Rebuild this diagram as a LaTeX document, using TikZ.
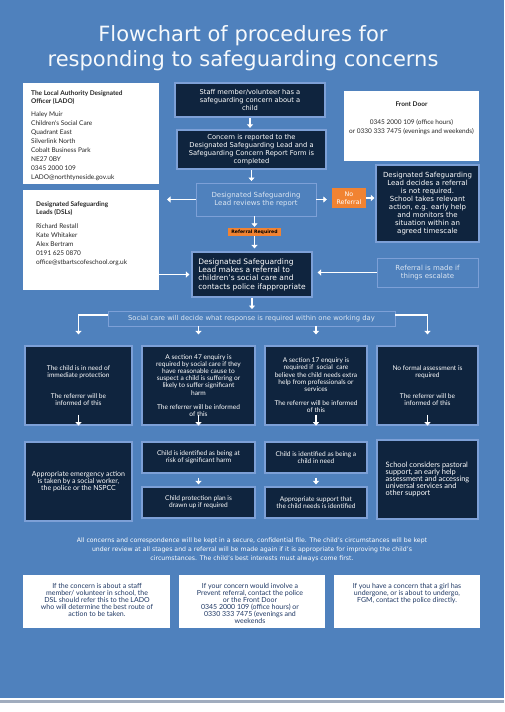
\documentclass[tikz,border=0pt]{standalone}
\usepackage{fontspec}
\setmainfont{DejaVu Sans}
\newfontfamily\gillfont{Lato}
\usetikzlibrary{positioning,arrows.meta,calc}

\definecolor{pageblue}{RGB}{79,129,189}
\definecolor{navyfill}{RGB}{15,36,62}
\definecolor{edgeblue}{RGB}{125,160,215}
\definecolor{paletext}{RGB}{220,230,242}
\definecolor{tagorange}{RGB}{241,131,50}
\definecolor{inkblue}{RGB}{31,56,100}
\definecolor{footgray}{RGB}{160,172,190}

\begin{document}
\begin{tikzpicture}[
  x=1pt, y=-1pt,
  >={Triangle[length=3.5pt,width=6pt]},
  navybox/.style={draw=edgeblue, fill=navyfill, line width=1.2pt, text=white, align=center, inner sep=1pt},
  palebox/.style={draw=edgeblue, line width=0.9pt, text=paletext, align=center, inner sep=1pt},
  card/.style={fill=white, inner sep=0pt},
  tag/.style={fill=tagorange, align=center, inner sep=0pt},
  flow/.style={->, draw=white, line width=1.6pt},
  big/.style={font=\fontsize{6.7}{8.1}\selectfont},
  rowtext/.style={font=\gillfont\fontsize{6.6}{7.2}\selectfont},
  contact/.style={font=\gillfont\fontsize{6.5}{9}\selectfont, text=black!85, inner sep=0pt},
  foot/.style={font=\gillfont\fontsize{7}{7.1}\selectfont, text=inkblue, align=center, inner sep=0pt}
]

% ---------- page ----------
\fill[white] (0,0) rectangle (504,712);
\fill[pageblue] (0,0) rectangle (504,698);
\fill[footgray] (0,700) rectangle (504,703);
\useasboundingbox (0,0) rectangle (504,712);

\node[text=white!95!pageblue, font=\fontsize{21}{24.5}\selectfont, align=center] (title) at (243,48)
  {Flowchart of procedures for\\responding to safeguarding concerns};

% ---------- contacts ----------
\node[card, minimum width=136pt, minimum height=101pt] (lado) at (91,133.5) {};
\node[contact, align=left, anchor=north west] (ladotext) at (31,90)
  {\textbf{The Local Authority Designated}\\[-1pt]\textbf{Officer (LADO)}\\[4pt]
   Haley Muir\\Children's Social Care\\Quadrant East\\Silverlink North\\Cobalt Business Park\\
   NE27 0BY\\0345 2000 109\\LADO@northtyneside.gov.uk};
\node[card, minimum width=136pt, minimum height=100pt] (dsl) at (91,240) {};
\node[contact, align=left, anchor=north west] (dsltext) at (36,201)
  {\textbf{Designated Safeguarding}\\[-1pt]\textbf{Leads (DSLs)}\\[5pt]
   Richard Restall\\Kate Whitaker\\Alex Bertram\\0191 625 0870\\office@stbartscofeschool.org.uk};
\node[card, minimum width=135pt, minimum height=70pt] (front) at (411.5,126) {};
\node[contact, align=center] (fronttext) at ($(front)+(0,-8)$)
  {\textbf{Front Door}\\[9pt]0345  2000 109 (office hours)\\or 0330 333 7475 (evenings and weekends)};

% ---------- nodes ----------
\node[navybox, big, minimum width=150pt, minimum height=34pt] (staff) at (250,100)
  {Staff member/volunteer has a\\safeguarding concern about a\\child};
\node[navybox, big, minimum width=149pt, minimum height=39pt] (concern) at (251.5,149.5)
  {Concern is reported to the\\Designated Safeguarding Lead and a\\Safeguarding Concern Report Form is\\completed};
\node[palebox, font=\fontsize{7}{8.1}\selectfont, minimum width=120pt, minimum height=33pt] (reviews) at (256,199.5)
  {Designated Safeguarding\\Lead reviews the report};
\node[tag, text=white, font=\fontsize{6.3}{7.5}\selectfont, minimum width=34pt, minimum height=20pt] (noref) at (349,198)
  {No\\Referral};
\node[navybox, font=\fontsize{7}{8.1}\selectfont, minimum width=103pt, minimum height=77pt] (decides) at (427.5,203.5)
  {Designated Safeguarding\\Lead decides a referral\\is not required.\\School takes relevant\\action, e.g. early help\\and monitors the\\situation within an\\agreed timescale};
\node[tag, font=\bfseries\fontsize{4.6}{5}\selectfont, minimum width=53pt, minimum height=8pt] (reftag) at (254.5,232)
  {Referral Required};
\node[navybox, align=left, font=\fontsize{7.5}{8.3}\selectfont, minimum width=120pt, minimum height=45pt] (refer) at (252,274.5)
  {Designated Safeguarding\\Lead makes a referral to\\children's social care and\\contacts police ifappropriate};
\node[palebox, font=\fontsize{7}{8}\selectfont, minimum width=101pt, minimum height=29pt] (escalate) at (427.5,272.5)
  {Referral is made if\\things escalate};
\coordinate (tolado) at (167,199.5);
\node[palebox, font=\fontsize{6.8}{7}\selectfont, minimum width=287pt, minimum height=15pt] (social) at (251.5,318.5)
  {Social care will decide what response is required within one working day};

% first row
\node[navybox, rowtext, minimum width=107pt, minimum height=79pt] (rowA) at (78.5,385.5)
  {The child is in need of\\immediate protection\\[13.5pt]The referrer will be\\informed of this};
\node[navybox, rowtext, minimum width=113pt, minimum height=79pt] (rowB) at (198.5,385.5)
  {A section 47 enquiry is\\required by social care if they\\have reasonable cause to\\suspect a child is suffering or\\likely to suffer significant\\harm\\[7pt]The referrer will be informed\\of this};
\node[navybox, rowtext, minimum width=102pt, minimum height=79pt] (rowC) at (316,385.5)
  {A section 17 enquiry is\\required if \ social \ care\\believe the child needs extra\\help from professionals or\\services\\[7pt]The referrer will be informed\\of this};
\node[navybox, rowtext, minimum width=101pt, minimum height=79pt] (rowD) at (427.5,385.5)
  {No formal assessment is\\required\\[13.5pt]The referrer will be\\informed of this};

% second row
\node[navybox, font=\gillfont\fontsize{7}{7.3}\selectfont, minimum width=107pt, minimum height=79pt] (a2) at (78.5,481.5)
  {Appropriate emergency action\\is taken by a social worker,\\the police or the NSPCC};
\node[navybox, rowtext, minimum width=113pt, minimum height=31pt] (b2a) at (198.5,457.5)
  {Child is identified as being at\\risk of significant harm};
\node[navybox, rowtext, minimum width=113pt, minimum height=31pt] (b2b) at (198.5,502.5)
  {Child protection plan is\\drawn up if required};
\node[navybox, rowtext, minimum width=102pt, minimum height=31pt] (c2a) at (316,457.5)
  {Child is identified as being a\\child in need};
\node[navybox, rowtext, minimum width=102pt, minimum height=31pt] (c2b) at (316,502.5)
  {Appropriate support that\\the child needs is identified};
\node[navybox, align=left, font=\gillfont\fontsize{7.4}{7.2}\selectfont, minimum width=101pt, minimum height=79pt] (d2) at (427.5,479.5)
  {School considers pastoral\\support, an early help\\assessment and accessing\\universal services and\\other support};

% ---------- notes ----------
\node[text=white, font=\fontsize{6.2}{9}\selectfont, align=center] (note) at (252,550)
  {All concerns and correspondence will be kept in a secure, confidential file. The child's circumstances will be kept\\
   under review at all stages and a referral will be made again if it is appropriate for improving the  child's\\
   circumstances.  The child's best interests must always come first.};
\node[card, minimum width=147pt, minimum height=53pt] (staffcase) at (96.5,601.5) {};
\node[foot, anchor=north] (staffcasetext) at (97,583)
  {If the concern is about a staff\\member/ volunteer in school, the\\DSL should refer this to the LADO\\who will determine the best route of\\action to be taken.};
\node[card, minimum width=146pt, minimum height=53pt] (prevent) at (252,601.5) {};
\node[foot, anchor=north] (preventtext) at (250,583)
  {If your concern would involve a\\Prevent referral, contact the police\\or the Front Door\\0345 2000 109 (office hours) or\\0330 333 7475 (evenings and\\weekends};
\node[card, minimum width=146pt, minimum height=53pt] (fgm) at (407,601.5) {};
\node[foot, anchor=north] (fgmtext) at (407,583)
  {If you have a concern that a girl has\\undergone, or is about to undergo,\\FGM, contact the police directly.};

% ---------- arrows ----------
\draw[flow, shorten >=1.5pt] (staff.south) -- (staff.south |- concern.north);
\draw[flow, shorten >=1.5pt] (concern.south) -- (concern.south |- reviews.north);
\draw[flow] (reviews.west) -- (tolado);
\draw[flow, shorten >=5pt] (reviews.east) -- (reviews.east -| noref.west);
\draw[flow, shorten >=1pt] (reftag.north |- reviews.south) -- (reftag.north);
\draw[flow, shorten >=3pt] (reftag.south) -- (reftag.south |- refer.north);
\draw[flow, shorten >=1pt] (noref.east) -- (noref.east -| decides.west);
\draw[flow, shorten >=2pt] (refer.west -| dsl.east) -- (refer.west);
\draw[flow, shorten >=5pt] (escalate.west) -- (escalate.west -| refer.east);
\draw[flow, shorten >=1.5pt] (refer.south) -- (refer.south |- social.north);
\draw[flow, shorten >=11pt] ([yshift=3.5pt]social.west) -| (rowA.north);
\draw[flow, shorten >=11pt] ([yshift=3.5pt]social.east) -| (rowD.north);
\draw[flow, shorten >=11pt] (social.south -| rowB.north) -- (rowB.north);
\draw[flow, shorten >=11pt] (social.south -| rowC.north) -- (rowC.north);
\foreach \b in {rowA,rowB,rowC,rowD}
  \draw[flow] ([yshift=11pt]\b.south) -- (\b.south);
\draw[flow, shorten <=4pt, shorten >=2pt] (b2a.south) -- (b2b.north);
\draw[flow, shorten <=4pt, shorten >=2pt] (c2a.south) -- (c2b.north);
\end{tikzpicture}
\end{document}
